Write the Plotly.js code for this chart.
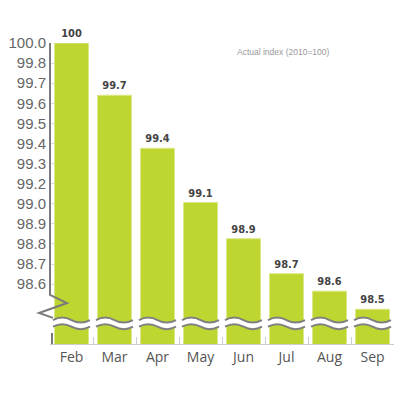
<!DOCTYPE html>
<html>
<head>
<meta charset="utf-8">
<script src="https://cdn.plot.ly/plotly-3.0.1.min.js"></script>
<style>
body { margin: 0; background: #fff; }
#chart { width: 400px; height: 400px; }
</style>
</head>
<body>
<div id="chart"></div>
<script>
let months = ["Feb", "Mar", "Apr", "May", "Jun", "Jul", "Aug", "Sep"]
let barHeights = [100, 99.74, 99.476, 99.206, 99.026, 98.852, 98.765, 98.675]
let barLabels = ["100", "99.7", "99.4", "99.1", "98.9", "98.7", "98.6", "98.5"]

// the axis labels as printed (evenly spaced, some values skipped)
let tickPos = [100, 99.9, 99.8, 99.7, 99.6, 99.5, 99.4, 99.3, 99.2, 99.1, 99.0, 98.9, 98.8]
let tickLabels = ["100.0", "99.8", "99.7", "99.6", "99.5", "99.4", "99.3", "99.2", "99.0", "98.9", "98.8", "98.7", "98.6"]

let yMin = 98.502
let yMax = 100
let plotW = 344

// broken-axis wave across one bar
function wave(i, yc, amp){
  let half = 18.5 / plotW
  let cx = (i + 0.5) / months.length
  let x0 = cx - half
  let w = half * 2
  let k = amp * 4 / 3
  return "M " + x0 + "," + yc +
    " C " + (x0 + w / 6) + "," + (yc + k) + " " + (x0 + 2 * w / 6) + "," + (yc + k) + " " + (x0 + w / 2) + "," + yc +
    " C " + (x0 + 4 * w / 6) + "," + (yc - k) + " " + (x0 + 5 * w / 6) + "," + (yc - k) + " " + (x0 + w) + "," + yc
}

let shapes = []

months.forEach(function(m, i){
  shapes.push({type: "path", xref: "paper", yref: "y", path: wave(i, 98.604, 0.0124),
    line: {color: "#ffffff", width: 6}})
  shapes.push({type: "path", xref: "paper", yref: "y", path: wave(i, 98.621, 0.0124),
    line: {color: "#808080", width: 2}})
  shapes.push({type: "path", xref: "paper", yref: "y", path: wave(i, 98.588, 0.0124),
    line: {color: "#808080", width: 2}})
})

// y axis line with zigzag break
shapes.push({type: "path", xref: "paper", yref: "y",
  path: "M 0,100 L 0,98.746 L " + (17 / plotW) + ",98.706 L " + (-11 / plotW) + ",98.656 L " + (3 / plotW) + ",98.632",
  line: {color: "#7a7a7a", width: 2}})
shapes.push({type: "path", xref: "paper", yref: "y",
  path: "M " + (2 / plotW) + ",98.557 L " + (2 / plotW) + "," + yMin,
  line: {color: "#7a7a7a", width: 2}})

let trace = {
  x: months,
  y: barHeights,
  type: "bar",
  text: barLabels,
  texttemplate: "<b>%{text}</b>",
  textposition: "outside",
  cliponaxis: false,
  textfont: {family: "Liberation Sans Narrow, DejaVu Sans Condensed, sans-serif", size: 11, color: "#444444"},
  marker: {color: "#bfd630", line: {color: "#dbe88a", width: 1}},
  hoverinfo: "none"
}

let layout = {
  width: 400,
  height: 400,
  margin: {l: 50, r: 6, t: 43, b: 56},
  paper_bgcolor: "#ffffff",
  plot_bgcolor: "#ffffff",
  showlegend: false,
  bargap: 0.21,
  xaxis: {
    type: "category",
    showline: true,
    linecolor: "#cccccc",
    linewidth: 1,
    ticks: "inside",
    tickson: "boundaries",
    ticklen: 7,
    tickcolor: "#cccccc",
    showgrid: false,
    zeroline: false,
    tickfont: {family: "Open Sans, sans-serif", size: 14, color: "#555555"}
  },
  yaxis: {
    range: [yMin, yMax],
    tickvals: tickPos,
    ticktext: tickLabels,
    showline: false,
    showgrid: false,
    zeroline: false,
    ticks: "inside",
    ticklen: 4,
    tickcolor: "#dddddd",
    ticklabelstandoff: 3,
    tickfont: {family: "Liberation Sans, Arial, sans-serif", size: 15, color: "#666666"}
  },
  shapes: shapes,
  annotations: [{
    text: "Actual index (2010=100)",
    xref: "paper", yref: "paper",
    x: 0.68, y: 0.993,
    xanchor: "center",
    showarrow: false,
    font: {family: "Liberation Sans, Arial, sans-serif", size: 8.5, color: "#999999"}
  }]
}

Plotly.newPlot("chart", [trace], layout, {displayModeBar: false, staticPlot: true})
</script>
</body>
</html>
